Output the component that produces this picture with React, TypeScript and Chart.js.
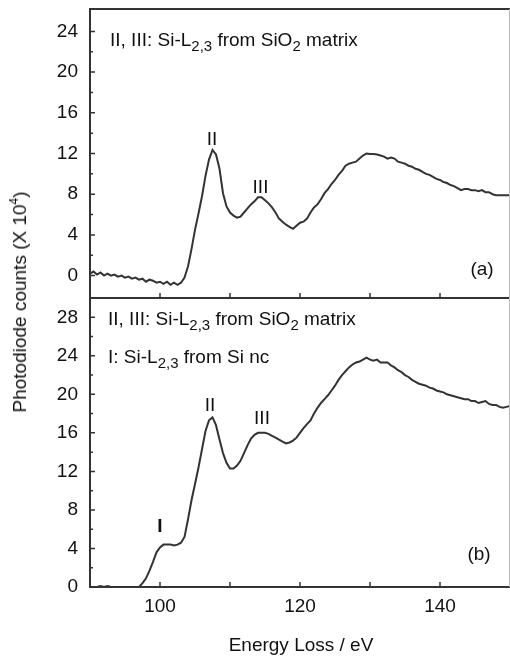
import React, { useEffect, useRef } from "react";
import { Chart, registerables } from "chart.js";

Chart.register(...registerables);

// ---- data ----
const energies = [
  90, 90.5, 91, 91.5, 92, 92.5, 93, 93.5, 94, 94.5,
  95, 95.5, 96, 96.5, 97, 97.5, 98, 98.5, 99, 99.5,
  100, 100.5, 101, 101.5, 102, 102.5, 103, 103.5, 104, 104.5,
  105, 105.5, 106, 106.5, 107, 107.5, 108, 108.5, 109, 109.5,
  110, 110.5, 111, 111.5, 112, 112.5, 113, 113.5, 114, 114.5,
  115, 115.5, 116, 116.5, 117, 117.5, 118, 118.5, 119, 119.5,
  120, 120.5, 121, 121.5, 122, 122.5, 123, 123.5, 124, 124.5,
  125, 125.5, 126, 126.5, 127, 127.5, 128, 128.5, 129, 129.5,
  130, 130.5, 131, 131.5, 132, 132.5, 133, 133.5, 134, 134.5,
  135, 135.5, 136, 136.5, 137, 137.5, 138, 138.5, 139, 139.5,
  140, 140.5, 141, 141.5, 142, 142.5, 143, 143.5, 144, 144.5,
  145, 145.5, 146, 146.5, 147, 147.5, 148, 148.5, 149, 149.5,
  150,
];

// (a) SiO2 matrix
const countsA = [
  0.2, 0.4, 0.1, 0.3, 0.0, 0.2, 0.0, 0.1, -0.1, 0.0,
  -0.2, -0.1, -0.3, -0.2, -0.4, -0.3, -0.6, -0.4, -0.5, -0.7,
  -0.6, -0.8, -0.6, -0.9, -0.7, -0.9, -0.7, -0.2, 0.9, 2.6,
  4.5, 6.1, 7.8, 9.8, 11.4, 12.35, 11.9, 10.5, 8.1, 6.8,
  6.2, 5.9, 5.7, 5.8, 6.2, 6.6, 7.0, 7.3, 7.7, 7.7,
  7.4, 7.1, 6.7, 6.2, 5.6, 5.3, 5.0, 4.8, 4.6, 4.9,
  5.2, 5.3, 5.6, 6.2, 6.7, 7.0, 7.5, 8.1, 8.5, 9.0,
  9.4, 9.9, 10.3, 10.8, 11.0, 11.1, 11.2, 11.5, 11.8, 12.0,
  11.95, 11.95, 11.9, 11.8, 11.7, 11.5, 11.6, 11.5, 11.2, 11.1,
  11.0, 10.8, 10.7, 10.5, 10.4, 10.2, 10.0, 9.9, 9.7, 9.5,
  9.4, 9.2, 9.1, 8.9, 8.8, 8.6, 8.4, 8.5, 8.5, 8.4,
  8.4, 8.3, 8.4, 8.2, 8.2, 8.0, 7.9, 7.9, 7.9, 7.9,
  7.9,
];

// (b) SiO2 matrix + Si nc
const countsB = [
  -0.3, -0.2, 0.0, 0.1, 0.0, 0.1, 0.0, -0.3, -0.4, -0.5,
  -0.4, -0.5, -0.4, -0.3, 0.0, 0.4, 0.9, 1.7, 2.6, 3.6,
  4.1, 4.4, 4.4, 4.4, 4.3, 4.4, 4.6, 5.2, 7.0, 9.0,
  10.7, 12.4, 14.3, 16.2, 17.3, 17.6, 16.8, 15.3, 13.9, 12.9,
  12.3, 12.3, 12.6, 13.1, 13.9, 14.7, 15.4, 15.8, 16.0, 16.0,
  16.0, 15.9, 15.7, 15.5, 15.3, 15.1, 14.9, 15.0, 15.2, 15.5,
  16.0, 16.5, 16.9, 17.3, 18.0, 18.6, 19.1, 19.5, 19.9, 20.4,
  20.9, 21.5, 22.0, 22.4, 22.8, 23.1, 23.3, 23.4, 23.6, 23.8,
  23.6, 23.5, 23.6, 23.3, 23.3, 23.3, 23.0, 22.8, 22.5, 22.3,
  22.0, 21.8, 21.5, 21.3, 21.1, 21.0, 20.9, 20.7, 20.6, 20.4,
  20.3, 20.2, 20.0, 19.9, 19.8, 19.7, 19.6, 19.5, 19.5, 19.3,
  19.3, 19.1, 19.2, 19.3, 19.0, 18.9, 18.9, 18.7, 18.6, 18.7,
  18.8,
];

const xRange = [90, 150];
const rangeA = [-2.2, 26.2];
const rangeB = [0, 30];
const xLabelTicks = [100, 120, 140];
const xMarkTicks = [100, 110, 120, 130, 140];
const yTicksA = [0, 4, 8, 12, 16, 20, 24];
const yMinorA = [2, 6, 10, 14, 18, 22];
const yTicksB = [0, 4, 8, 12, 16, 20, 24, 28];
const yMinorB = [2, 6, 10, 14, 18, 22, 26];

const FONT = '"Liberation Sans", Arial, Helvetica, sans-serif';
const INK = "#333333";
const TEXT = "#111111";

const framePlugin = {
  id: "frame",
  afterDatasetsDraw(chart: any) {
    const { ctx } = chart;
    const x = chart.scales.x;
    const a = chart.scales.yA;
    const b = chart.scales.yB;
    const L = x.left;
    const R = x.right;
    ctx.save();
    ctx.strokeStyle = INK;
    ctx.lineWidth = 2;
    ctx.beginPath();
    ctx.moveTo(L, a.top);
    ctx.lineTo(R, a.top);
    ctx.moveTo(L, a.top - 1);
    ctx.lineTo(L, b.bottom + 1);
    ctx.moveTo(L, a.bottom);
    ctx.lineTo(R, a.bottom);
    ctx.moveTo(L, b.bottom);
    ctx.lineTo(R, b.bottom);
    ctx.stroke();

    ctx.lineWidth = 1.5;
    ctx.beginPath();
    for (const v of xMarkTicks) {
      const p = x.getPixelForValue(v);
      ctx.moveTo(p, a.bottom);
      ctx.lineTo(p, a.bottom - 5);
      ctx.moveTo(p, b.bottom);
      ctx.lineTo(p, b.bottom - 5);
    }
    const sets: any[] = [
      [a, yTicksA, yMinorA],
      [b, yTicksB, yMinorB],
    ];
    for (const [s, maj, min] of sets) {
      for (const v of maj) {
        const py = s.getPixelForValue(v);
        ctx.moveTo(L, py);
        ctx.lineTo(L + 5, py);
      }
      for (const v of min) {
        const py = s.getPixelForValue(v);
        ctx.moveTo(L, py);
        ctx.lineTo(L + 3, py);
      }
    }
    ctx.stroke();

    ctx.strokeStyle = "#b8b8b8";
    ctx.lineWidth = 1;
    ctx.beginPath();
    ctx.moveTo(R - 0.5, a.top);
    ctx.lineTo(R - 0.5, b.bottom);
    ctx.stroke();
    ctx.restore();
  },
};

function yScale(range: number[], ticks: number[]) {
  return {
    type: "linear" as const,
    position: "left" as const,
    stack: "panels",
    stackWeight: 1,
    min: range[0],
    max: range[1],
    grid: { display: false, drawTicks: false },
    border: { display: false },
    afterBuildTicks: (scale: any) => {
      scale.ticks = ticks.map((v) => ({ value: v }));
    },
    afterFit: (scale: any) => {
      scale.width = 90;
      scale.paddingTop = 0;
      scale.paddingBottom = 0;
    },
    ticks: {
      autoSkip: false,
      padding: 12,
      color: TEXT,
      font: { family: FONT, size: 19 },
      callback: (v: any) => String(v),
    },
  };
}

function Txt(props: { x: number; y: number; center?: boolean; bold?: boolean; children: any }) {
  const { x, y, center, bold, children } = props;
  return (
    <div
      style={{
        position: "absolute",
        left: x,
        top: y - 11,
        transform: center ? "translateX(-50%)" : undefined,
        font: `${bold ? "bold " : ""}19px ${FONT}`,
        lineHeight: "22px",
        whiteSpace: "nowrap",
        color: TEXT,
      }}
    >
      {children}
    </div>
  );
}

const Sub = (props: { children: any }) => (
  <span style={{ fontSize: 15, position: "relative", top: 5 }}>{props.children}</span>
);

export default function App() {
  const ref = useRef<HTMLCanvasElement | null>(null);

  useEffect(() => {
    if (!ref.current) return;
    const chart = new Chart(ref.current, {
      type: "line",
      data: {
        datasets: [
          {
            label: "(a)",
            data: energies.map((e, i) => ({ x: e, y: countsA[i] })),
            yAxisID: "yA",
            borderColor: INK,
            borderWidth: 2,
            pointRadius: 0,
            tension: 0,
          },
          {
            label: "(b)",
            data: energies.map((e, i) => ({ x: e, y: countsB[i] })),
            yAxisID: "yB",
            borderColor: INK,
            borderWidth: 2,
            pointRadius: 0,
            tension: 0,
          },
        ],
      },
      options: {
        responsive: false,
        animation: false,
        events: [],
        layout: { padding: { top: 9, left: 0, right: 0, bottom: 0 } },
        plugins: { legend: { display: false }, tooltip: { enabled: false } },
        scales: {
          x: {
            type: "linear",
            position: "bottom",
            min: xRange[0],
            max: xRange[1],
            grid: { display: false, drawTicks: false },
            border: { display: false },
            afterBuildTicks: (scale: any) => {
              scale.ticks = xLabelTicks.map((v) => ({ value: v }));
            },
            afterFit: (scale: any) => {
              scale.height = 69;
              scale.paddingLeft = 0;
              scale.paddingRight = 0;
            },
            ticks: {
              autoSkip: false,
              maxRotation: 0,
              padding: 8,
              color: TEXT,
              font: { family: FONT, size: 19 },
              callback: (v: any) => String(v),
            },
          },
          yB: yScale(rangeB, yTicksB),
          yA: yScale(rangeA, yTicksA),
        },
      },
      plugins: [framePlugin],
    } as any);
    return () => chart.destroy();
  }, []);

  return (
    <div style={{ position: "absolute", left: 0, top: 0, width: 510, height: 656, background: "#fff" }}>
      <canvas ref={ref} width={510} height={656} style={{ display: "block" }} />

      <Txt x={110} y={40}>
        II, III: Si-L<Sub>2,3</Sub> from SiO<Sub>2</Sub> matrix
      </Txt>
      <Txt x={212} y={139} center>II</Txt>
      <Txt x={260.5} y={187} center>III</Txt>
      <Txt x={482} y={269} center>(a)</Txt>

      <Txt x={108} y={319}>
        II, III: Si-L<Sub>2,3</Sub> from SiO<Sub>2</Sub> matrix
      </Txt>
      <Txt x={108} y={357}>
        I: Si-L<Sub>2,3</Sub> from Si nc
      </Txt>
      <Txt x={210} y={405} center>II</Txt>
      <Txt x={262} y={418} center>III</Txt>
      <Txt x={160} y={526} center bold>I</Txt>
      <Txt x={479} y={554} center>(b)</Txt>

      <div
        style={{
          position: "absolute",
          left: 301,
          top: 645 - 11,
          transform: "translateX(-50%)",
          font: `19px ${FONT}`,
          lineHeight: "22px",
          whiteSpace: "nowrap",
          color: TEXT,
        }}
      >
        Energy Loss / eV
      </div>
      <div
        style={{
          position: "absolute",
          left: 20.5,
          top: 301.5,
          transform: "translate(-50%, -50%) rotate(-90deg)",
          font: `19px ${FONT}`,
          lineHeight: "22px",
          whiteSpace: "nowrap",
          color: TEXT,
        }}
      >
        Photodiode counts (X 10<sup style={{ fontSize: 12, verticalAlign: "baseline", position: "relative", top: -8 }}>4</sup>)
      </div>
    </div>
  );
}
